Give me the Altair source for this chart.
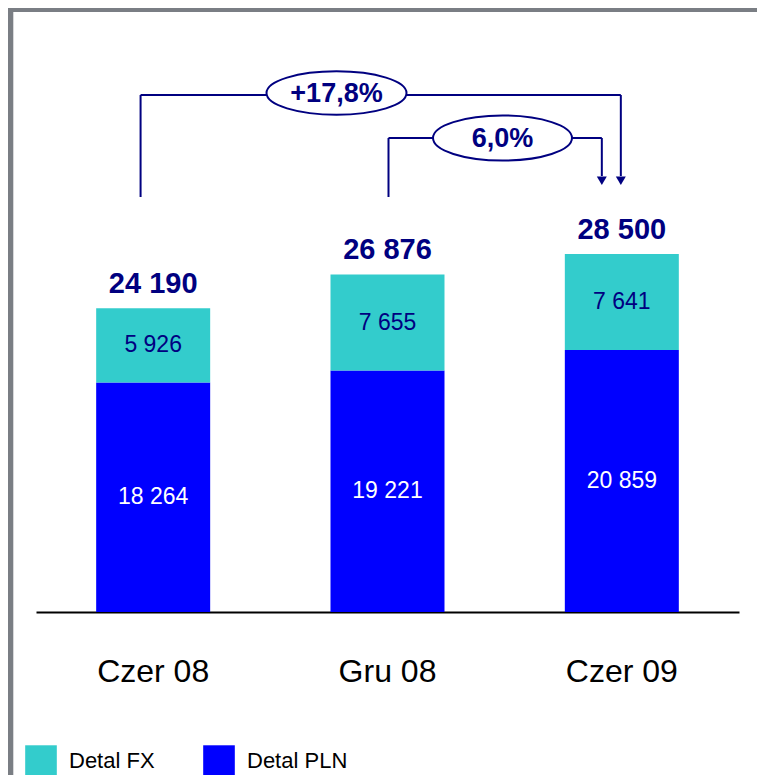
import altair as alt
import pandas as pd

# ---------------- data ----------------
categories = ["Czer 08", "Gru 08", "Czer 09"]
detal_pln = [18264, 19221, 20859]
detal_fx = [5926, 7655, 7641]
totals = [24190, 26876, 28500]
series_names = ["Detal FX", "Detal PLN"]
growth_labels = ["+17,8%", "6,0%"]
growth_from = ["Czer 08", "Gru 08"]
growth_to = ["Czer 09", "Czer 09"]

# ---------------- style ----------------
NAVY = "#000080"
FX_COLOR = "#33CCCC"
PLN_COLOR = "#0000FF"
FRAME = "#7a7e84"
FONT = "Liberation Sans"
W, H = 703, 604
Y_MAX = 48090


def fmt(v):
    return f"{v:,}".replace(",", " ")


rows = []
for c, p, f in zip(categories, detal_pln, detal_fx):
    rows.append(dict(cat=c, series="Detal PLN", y0=0, y1=p, mid=p / 2, label=fmt(p)))
    rows.append(dict(cat=c, series="Detal FX", y0=p, y1=p + f, mid=p + f / 2, label=fmt(f)))
seg = pd.DataFrame(rows)
tot = pd.DataFrame(dict(cat=categories, total=totals, label=[fmt(t) for t in totals]))

xscale = alt.Scale(domain=categories, paddingInner=0.5135, paddingOuter=0.2568)
yscale = alt.Scale(domain=[0, Y_MAX], nice=False, zero=True)

X = alt.X(
    "cat:N",
    scale=xscale,
    sort=categories,
    axis=alt.Axis(
        title=None, labelAngle=0, labelFontSize=32, labelFont=FONT,
        labelColor="black", domainColor="black", domainWidth=2,
        ticks=False, labelPadding=44, grid=False,
    ),
)

bars = alt.Chart(seg).mark_bar().encode(
    x=X,
    y=alt.Y("y1:Q", scale=yscale, axis=None),
    y2="y0:Q",
    color=alt.Color(
        "series:N",
        scale=alt.Scale(domain=series_names, range=[FX_COLOR, PLN_COLOR]),
        legend=alt.Legend(
            title=None, orient="none", legendX=-11, legendY=737,
            direction="horizontal", symbolType="square", symbolSize=1000,
            symbolStrokeWidth=0, labelFont=FONT, labelFontSize=22,
            labelColor="black", labelOffset=12, columnPadding=48, padding=0,
        ),
    ),
)

seg_text = alt.Chart(seg).mark_text(
    font=FONT, fontSize=23, baseline="middle", align="center"
).encode(
    x=alt.X("cat:N", scale=xscale, sort=categories),
    y=alt.Y("mid:Q", scale=yscale, axis=None),
    text="label:N",
    color=alt.condition(alt.datum.series == "Detal FX", alt.value(NAVY), alt.value("white")),
)

tot_text = alt.Chart(tot).mark_text(
    font=FONT, fontSize=29, fontWeight="bold", baseline="alphabetic",
    align="center", dy=-15, color=NAVY,
).encode(
    x=alt.X("cat:N", scale=xscale, sort=categories),
    y=alt.Y("total:Q", scale=yscale, axis=None),
    text="label:N",
)

# -------- growth brackets (annotation layout in data units) --------
BASE = 33041      # where the bracket leaves the left bar
TIP = 34713       # bottom of the right vertical line
ARROW = 34339     # arrow head centre
levels = [41162, 37739]
start_dx = [-12.6, 1]
end_dx = [-1, -20]
ell_dx = [-51, 115]
ell_w = [140, 139]
ell_ratio = [0.31, 0.324]
ell_dy = [-2, 0]
lab_size = [27, 27]

layers = [bars, seg_text, tot_text]
for i in range(2):
    d = pd.DataFrame(dict(
        start=[growth_from[i]], end=[growth_to[i]], base=[BASE], level=[levels[i]],
        tip=[TIP], arrow=[ARROW], mid=["Gru 08"], label=[growth_labels[i]],
    ))
    xs = alt.X("start:N", scale=xscale, sort=categories)
    xe = alt.X("end:N", scale=xscale, sort=categories)
    xm = alt.X("mid:N", scale=xscale, sort=categories)
    yl = alt.Y("level:Q", scale=yscale, axis=None)
    left = alt.Chart(d).mark_rule(color=NAVY, strokeWidth=2, xOffset=start_dx[i]).encode(
        x=xs, y=alt.Y("base:Q", scale=yscale, axis=None), y2="level:Q")
    top = alt.Chart(d).mark_rule(color=NAVY, strokeWidth=2, xOffset=start_dx[i],
                                 x2Offset=end_dx[i]).encode(x=xs, x2="end:N", y=yl)
    right = alt.Chart(d).mark_rule(color=NAVY, strokeWidth=2, xOffset=end_dx[i]).encode(
        x=xe, y=yl, y2="tip:Q")
    arrow = alt.Chart(d).mark_point(shape="triangle-down", size=100, filled=True,
                                    color=NAVY, opacity=1, xOffset=end_dx[i]).encode(
        x=xe, y=alt.Y("arrow:Q", scale=yscale, axis=None))
    r = ell_ratio[i]
    shape = f"M -1 0 A 1 {r} 0 1 1 1 0 A 1 {r} 0 1 1 -1 0 Z"
    ell = alt.Chart(d).mark_point(shape=shape, size=ell_w[i] ** 2, filled=True,
                                  fill="white", stroke=NAVY, strokeWidth=2,
                                  opacity=1, fillOpacity=1, strokeOpacity=1,
                                  xOffset=ell_dx[i], yOffset=ell_dy[i]).encode(x=xm, y=yl)
    lab = alt.Chart(d).mark_text(font=FONT, fontSize=lab_size[i], fontWeight="bold",
                                 color=NAVY, baseline="middle", align="center",
                                 xOffset=ell_dx[i], yOffset=ell_dy[i] + 1).encode(
        x=xm, y=yl, text="label:N")
    layers += [left, top, right, arrow, ell, lab]

# -------- slide frame (decoration) --------
one = pd.DataFrame({"k": [0]})
frame_left = alt.Chart(one).mark_rect(color=FRAME).encode(
    x=alt.value(-28), x2=alt.value(-22.7), y=alt.value(0), y2=alt.value(767))
frame_top = alt.Chart(one).mark_rect(color=FRAME).encode(
    x=alt.value(-28), x2=alt.value(721), y=alt.value(0), y2=alt.value(4))
layers += [frame_left, frame_top]

chart = alt.layer(*layers).properties(
    width=W, height=H,
    background="white",
    autosize=alt.AutoSizeParams(type="none"),
    padding={"left": 28, "top": 0, "right": 18, "bottom": 163},
).configure_view(strokeWidth=0, stroke="transparent")

chart.save("out.html", embed_options={"renderer": "svg", "actions": False})
